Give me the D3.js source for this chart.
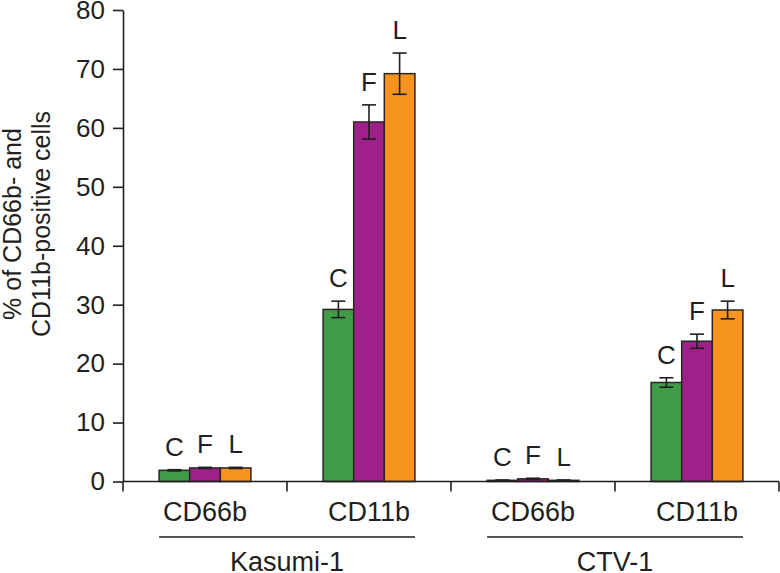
<!DOCTYPE html>
<html>
<head>
<meta charset="utf-8">
<script src="https://cdn.jsdelivr.net/npm/d3@7"></script>
<style>
  body { margin: 0; background: #fff; }
  svg text { font-family: "Liberation Sans", Arial, sans-serif; fill: #231f20; }
</style>
</head>
<body>
<div id="chart"></div>
<script>
// categories along the x axis, and the cell line each one belongs to
var categories = ["CD66b", "CD11b", "CD66b", "CD11b"];
var cellLines = ["Kasumi-1", "Kasumi-1", "CTV-1", "CTV-1"];
var groups = ["Kasumi-1", "CTV-1"];
var series = ["C", "F", "L"];

// mean % positive cells per series
var meanC = [1.9, 29.2, 0.2, 16.8];
var meanF = [2.3, 61.0, 0.45, 23.8];
var meanL = [2.3, 69.2, 0.2, 29.1];
// error bar half-lengths
var errC = [0.1, 1.4, 0.05, 0.8];
var errF = [0.1, 2.9, 0.1, 1.2];
var errL = [0.1, 3.5, 0.05, 1.5];

var yTicks = [0, 10, 20, 30, 40, 50, 60, 70, 80];
var colors = ["#3f9b48", "#9d2189", "#f7941e"];

var width = 780, height = 573;
var margin = {left: 123, right: 1, top: 10, bottom: 91.5};

var svg = d3.select("#chart").append("svg")
    .attr("width", width)
    .attr("height", height);

var x = d3.scaleBand()
    .domain(d3.range(categories.length))
    .range([margin.left, width - margin.right])
    .padding(0);

// the three bars sit in the middle of each band
var xs = d3.scaleBand()
    .domain(series)
    .range([x.bandwidth() * 0.22, x.bandwidth() * 0.78]);

var y = d3.scaleLinear()
    .domain([0, 80])
    .range([height - margin.bottom, margin.top]);

// build rows for every bar
var means = [meanC, meanF, meanL];
var errs = [errC, errF, errL];
var rows = [];
categories.forEach(function(c, i) {
  series.forEach(function(s, j) {
    rows.push({cat: i, s: s, j: j, v: means[j][i], e: errs[j][i]});
  });
});

// bars
svg.append("g").selectAll("rect")
  .data(rows)
  .enter().append("rect")
    .attr("x", function(d) { return x(d.cat) + xs(d.s); })
    .attr("y", function(d) { return y(d.v); })
    .attr("width", xs.bandwidth())
    .attr("height", function(d) { return y(0) - y(d.v); })
    .style("fill", function(d) { return colors[d.j]; })
    .style("stroke", "#2b2526")
    .style("stroke-width", 1.5);

// error bars
var eb = svg.append("g").selectAll("g")
  .data(rows)
  .enter().append("g")
    .attr("transform", function(d) { return "translate(" + (x(d.cat) + xs(d.s) + xs.bandwidth() / 2) + ",0)"; })
    .style("stroke", "#231f20")
    .style("stroke-width", 1.6);
eb.append("line")
    .attr("y1", function(d) { return y(d.v + d.e); })
    .attr("y2", function(d) { return y(d.v - d.e); });
eb.append("line")
    .attr("x1", -7).attr("x2", 7)
    .attr("y1", function(d) { return y(d.v + d.e); })
    .attr("y2", function(d) { return y(d.v + d.e); });
eb.append("line")
    .attr("x1", -7).attr("x2", 7)
    .attr("y1", function(d) { return y(d.v - d.e); })
    .attr("y2", function(d) { return y(d.v - d.e); });

// C / F / L letters above each bar
svg.append("g").selectAll("text")
  .data(rows)
  .enter().append("text")
    .attr("x", function(d) { return x(d.cat) + xs(d.s) + xs.bandwidth() / 2; })
    .attr("y", function(d) { return y(d.v + d.e) - 14; })
    .attr("text-anchor", "middle")
    .style("font-size", "26px")
    .text(function(d) { return d.s; });

// y axis
var yAxis = svg.append("g")
    .attr("transform", "translate(" + margin.left + ",0)")
    .call(d3.axisLeft(y).tickValues(yTicks).tickSize(10).tickSizeOuter(0).tickPadding(8));
yAxis.selectAll("path, line").style("stroke", "#231f20").style("stroke-width", 1.6);
yAxis.selectAll("text").style("font-size", "26px").style("font-family", "Liberation Sans, Arial, sans-serif").attr("fill", "#231f20");

// x axis line and separator ticks
var xAxis = svg.append("g");
xAxis.append("line")
    .attr("x1", margin.left).attr("x2", width - margin.right)
    .attr("y1", y(0)).attr("y2", y(0));
var bounds = x.domain().map(function(d) { return x(d); }).concat([x.range()[1]]);
xAxis.selectAll(".sep")
  .data(bounds)
  .enter().append("line")
    .attr("x1", function(d) { return d; }).attr("x2", function(d) { return d; })
    .attr("y1", y(0)).attr("y2", y(0) + 10);
xAxis.selectAll("line").style("stroke", "#231f20").style("stroke-width", 1.6);

// category labels
svg.append("g").selectAll("text")
  .data(categories)
  .enter().append("text")
    .attr("x", function(d, i) { return x(i) + x.bandwidth() / 2; })
    .attr("y", 521)
    .attr("text-anchor", "middle")
    .style("font-size", "27px")
    .text(function(d) { return d; });

// cell line underline + label
groups.forEach(function(g) {
  var idx = d3.range(categories.length).filter(function(i) { return cellLines[i] == g; });
  var x0 = x(idx[0]) + xs.range()[0];
  var x1 = x(idx[idx.length - 1]) + xs.range()[1];
  svg.append("line")
      .attr("x1", x0).attr("x2", x1)
      .attr("y1", 537).attr("y2", 537)
      .style("stroke", "#231f20").style("stroke-width", 1.4);
  svg.append("text")
      .attr("x", (x0 + x1) / 2)
      .attr("y", 571)
      .attr("text-anchor", "middle")
      .style("font-size", "27px")
      .text(g);
});

// y axis title, two lines
var title = svg.append("text")
    .attr("transform", "translate(0,224) rotate(-90)")
    .attr("text-anchor", "middle")
    .style("font-size", "25px");
title.append("tspan").attr("x", 0).attr("y", 21).text("% of CD66b- and");
title.append("tspan").attr("x", 0).attr("y", 50).text("CD11b-positive cells");
</script>
</body>
</html>
